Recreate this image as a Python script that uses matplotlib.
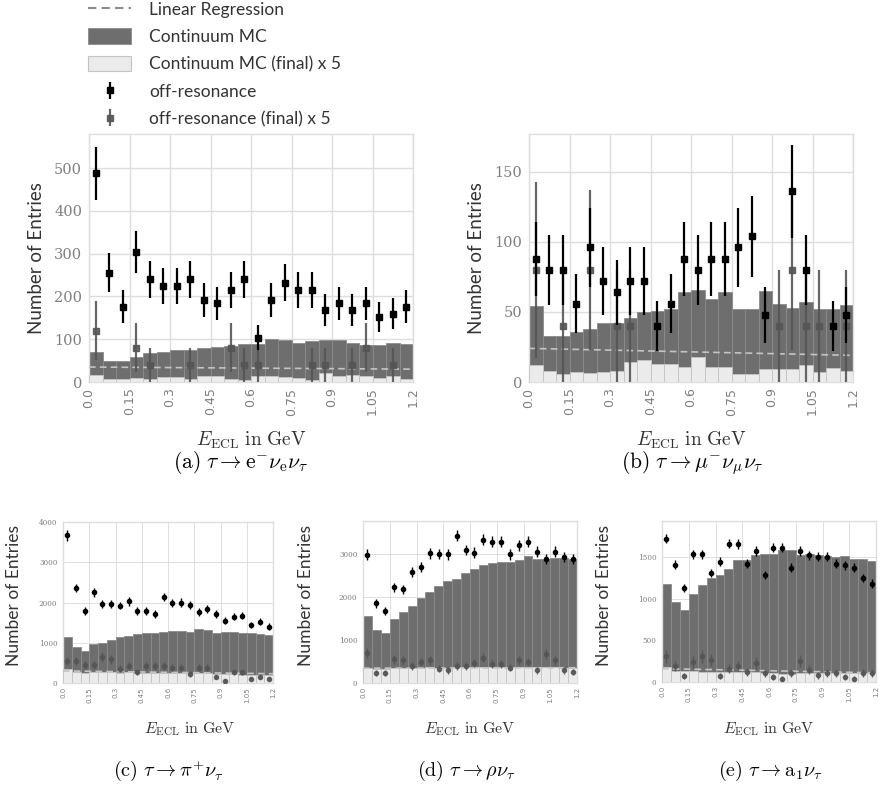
import numpy as np
import matplotlib
matplotlib.use("Agg")
import matplotlib.pyplot as plt
from matplotlib.patches import Patch
from matplotlib.lines import Line2D

plt.rcParams['mathtext.fontset'] = 'cm'

W, H = 880, 787
edges = np.round(np.arange(0, 1.2001, 0.05), 3)
x_lo = edges[:-1]
x_c = x_lo + 0.025
xticks = [0.0, 0.15, 0.3, 0.45, 0.6, 0.75, 0.9, 1.05, 1.2]
xticklabels = ["0.0", "0.15", "0.3", "0.45", "0.6", "0.75", "0.9", "1.05", "1.2"]

# ---------------- panel (a) ----------------
a_mc = [69, 48, 48, 59, 68, 70, 76, 74, 80, 82, 84, 88, 88, 100, 98, 91, 96, 98, 99, 91, 86, 86, 91, 88]
a_mc_final = [16, 6, 6, 10, 8, 12, 12, 8, 14, 14, 8, 5, 14, 14, 12, 10, 5, 20, 14, 16, 14, 10, 14, 6]
a_off = [488, 256, 176, 304, 240, 224, 224, 240, 192, 184, 216, 240, 104, 192, 232, 216, 216, 168, 184, 168, 184, 152, 160, 176]
a_off_err = [62, 45, 38, 49, 44, 42, 42, 44, 39, 38, 42, 44, 29, 39, 43, 42, 42, 37, 38, 37, 38, 35, 36, 38]
a_fin = [120, 0, 0, 80, 40, 0, 0, 40, 0, 0, 80, 40, 40, 0, 0, 0, 40, 40, 0, 40, 80, 0, 40, 0]
a_fin_err = [69, 0, 0, 57, 40, 0, 0, 40, 0, 0, 57, 40, 40, 0, 0, 0, 40, 40, 0, 40, 57, 0, 40, 0]
a_reg = [35, 30]

# ---------------- panel (b) ----------------
b_mc = [54, 33, 33, 36, 38, 42, 42, 46, 50, 51, 52, 64, 66, 59, 64, 52, 52, 65, 56, 53, 57, 52, 52, 55]
b_mc_final = [12, 8, 5.5, 7, 6.5, 7, 8, 14, 15.5, 13, 13, 10.7, 18, 11, 10.7, 6, 6, 9, 9, 9.5, 12, 7, 10, 8]
b_off = [88, 80, 80, 56, 96, 72, 64, 72, 72, 40, 56, 88, 80, 88, 88, 96, 104, 48, 0, 136, 80, 0, 40, 48]
b_off_err = [26.5, 25, 25, 21, 28, 24, 23, 24, 24, 18, 21, 26.5, 25, 26.5, 26.5, 28, 29, 20, 0, 33, 25, 0, 18, 20]
b_fin = [80, 0, 40, 0, 80, 0, 40, 40, 0, 0, 0, 0, 0, 0, 0, 0, 0, 0, 40, 80, 40, 40, 0, 40]
b_fin_err = [63, 0, 40, 0, 57, 0, 40, 40, 0, 0, 0, 0, 0, 0, 0, 0, 0, 0, 40, 57, 40, 40, 0, 40]
b_reg = [24, 19]

# ---------------- panel (c) ----------------
c_mc = [1133, 883, 800, 958, 983, 1067, 1133, 1175, 1217, 1233, 1250, 1267, 1300, 1292, 1275, 1333, 1325, 1250, 1275, 1258, 1242, 1233, 1225, 1183]
c_mc_final = [344, 262, 255, 262, 262, 262, 255, 262, 255, 250, 250, 245, 250, 245, 240, 240, 240, 230, 230, 220, 210, 205, 195, 190]
c_off = [3667, 2358, 1792, 2250, 1967, 1967, 1925, 2025, 1792, 1792, 1717, 2133, 1983, 2000, 1933, 1758, 1833, 1717, 1542, 1650, 1675, 1442, 1525, 1400]
c_off_err = [135, 108, 95, 106, 99, 99, 98, 100, 95, 95, 93, 103, 100, 100, 98, 94, 96, 93, 88, 91, 92, 85, 87, 84]
c_fin = [550, 550, 443, 443, 648, 590, 360, 426, 262, 426, 426, 426, 385, 385, 221, 385, 385, 140, 57, 262, 262, 100, 140, 100]
c_fin_err = [105, 105, 95, 95, 115, 110, 85, 92, 72, 92, 92, 92, 88, 88, 66, 88, 88, 53, 34, 72, 72, 45, 53, 45]
c_reg = [300, 230]

# ---------------- panel (d) ----------------
d_mc = [1556, 1245, 1167, 1479, 1658, 1798, 1969, 2109, 2257, 2381, 2420, 2553, 2661, 2747, 2786, 2809, 2825, 2864, 2957, 2895, 2895, 2910, 2918, 2880]
d_mc_final = [350, 336, 336, 340, 345, 350, 360, 365, 360, 360, 365, 370, 372, 370, 372, 368, 370, 372, 370, 368, 365, 362, 360, 355]
d_off = [2988, 1852, 1681, 2226, 2187, 2591, 2693, 3019, 3000, 2996, 3424, 3097, 3035, 3330, 3292, 3292, 2996, 3206, 3292, 3058, 2879, 3058, 2926, 2879]
d_off_err = [122, 96, 92, 105, 105, 114, 116, 123, 122, 122, 131, 124, 123, 129, 128, 128, 122, 127, 128, 124, 120, 124, 121, 120]
d_fin = [688, 234, 234, 555, 531, 391, 492, 531, 336, 297, 391, 391, 469, 586, 453, 438, 359, 531, 492, 297, 672, 531, 297, 258]
d_fin_err = [117, 68, 68, 105, 103, 88, 99, 103, 82, 77, 88, 88, 97, 108, 95, 94, 85, 103, 99, 77, 116, 103, 77, 72]
d_reg = [345, 355]

# ---------------- panel (e) ----------------
e_mc = [1172, 960, 860, 1052, 1160, 1252, 1288, 1360, 1460, 1460, 1520, 1540, 1540, 1588, 1588, 1528, 1540, 1528, 1508, 1500, 1508, 1476, 1476, 1448]
e_mc_final = [180, 130, 128, 126, 125, 124, 122, 120, 118, 116, 114, 112, 110, 100, 100, 104, 108, 110, 112, 112, 110, 110, 108, 108]
e_off = [1720, 1408, 1132, 1532, 1532, 1308, 1440, 1660, 1652, 1420, 1572, 1280, 1612, 1612, 1372, 1572, 1520, 1500, 1500, 1420, 1400, 1372, 1248, 1180]
e_off_err = [59, 53, 48, 55, 55, 51, 54, 58, 57, 53, 56, 51, 57, 57, 52, 56, 55, 55, 55, 53, 53, 52, 50, 49]
e_fin = [308, 188, 68, 240, 308, 268, 68, 160, 188, 120, 228, 108, 60, 40, 108, 248, 148, 80, 108, 108, 60, 40, 108, 108]
e_fin_err = [78, 61, 37, 69, 78, 73, 37, 57, 61, 49, 68, 46, 35, 28, 46, 70, 54, 40, 46, 46, 35, 28, 46, 46]
e_reg = [160, 110]

DARK = '#6e6e6e'
DARK_EDGE = '#8c8c8c'
LIGHT = '#ebebeb'
LIGHT_EDGE = '#c4c4c4'
GRID = '#dedede'
TICKC = '#7f7f7f'
FIN = '#555555'

fig = plt.figure(figsize=(W / 100, H / 100), dpi=100)


def box(l, t, r, b):
    return [l / W, 1 - b / H, (r - l) / W, (b - t) / H]


def panel(rect, mc, mcf, off, offe, fin, fine, reg, ylim, yticks, big):
    ax = fig.add_axes(box(*rect))
    ax.set_facecolor('white')
    ax.bar(x_lo, mc, width=0.05, align='edge', color=DARK, edgecolor=DARK_EDGE, lw=0.6, zorder=2)
    ax.bar(x_lo, mcf, width=0.05, align='edge', color=LIGHT, edgecolor=LIGHT_EDGE, lw=0.6, zorder=3)
    ax.plot([0.0, 1.2], reg, ls=(0, (4, 2.5)), color='#c4c4c4', lw=1.2, zorder=4)
    fin = np.array(fin, float)
    fine = np.array(fine, float)
    off = np.array(off, float)
    offe = np.array(offe, float)
    mf = fin > 0
    mo = off > 0
    if big:
        ms, lw = 4.5, 1.6
        mk = 's'
    else:
        ms, lw = 3.0, 1.0
        mk = 'o'
    h2 = ax.errorbar(x_c[mf], fin[mf], yerr=fine[mf], fmt=mk, color=FIN, ms=ms, lw=lw,
                     capsize=0, zorder=5, alpha=0.9)
    h1 = ax.errorbar(x_c[mo], off[mo], yerr=offe[mo], fmt=mk, color='black', ms=ms, lw=lw,
                     capsize=0, zorder=6)
    ax.set_xlim(0, 1.2)
    ax.set_ylim(*ylim)
    ax.set_xticks(xticks)
    ax.set_yticks(yticks)
    ax.grid(True, color=GRID, lw=1.0 if big else 0.7, zorder=0)
    ax.set_axisbelow(True)
    for s in ax.spines.values():
        s.set_color(GRID)
        s.set_linewidth(1.0)
    ax.tick_params(length=0, colors=TICKC)
    if big:
        ax.set_xticklabels(xticklabels, rotation=90, fontsize=9, family='DejaVu Sans', color=TICKC)
        ax.set_yticklabels([str(v) for v in yticks], fontsize=10.5, family='DejaVu Serif', color=TICKC)
        ax.tick_params(axis='x', pad=4)
        ax.tick_params(axis='y', pad=5)
    else:
        ax.set_xticklabels(xticklabels, rotation=90, fontsize=5.0, family='DejaVu Sans', color=TICKC)
        ax.set_yticklabels([str(v) for v in yticks], fontsize=5.2, family='DejaVu Serif', color=TICKC)
        ax.tick_params(axis='x', pad=3)
        ax.tick_params(axis='y', pad=4)
    return ax, h1, h2


axa, h_off, h_fin = panel((89, 134, 413, 382), a_mc, a_mc_final, a_off, a_off_err, a_fin, a_fin_err, a_reg,
                          (0, 580), [0, 100, 200, 300, 400, 500], True)
axb, _, _ = panel((529, 134, 853, 382), b_mc, b_mc_final, b_off, b_off_err, b_fin, b_fin_err, b_reg,
                  (0, 177), [0, 50, 100, 150], True)
axc, _, _ = panel((63, 522, 273, 683), c_mc, c_mc_final, c_off, c_off_err, c_fin, c_fin_err, c_reg,
                  (0, 4000), [0, 1000, 2000, 3000, 4000], False)
axd, _, _ = panel((363, 521, 577, 683), d_mc, d_mc_final, d_off, d_off_err, d_fin, d_fin_err, d_reg,
                  (0, 3770), [0, 1000, 2000, 3000], False)
axe, _, _ = panel((662, 521, 876, 682), e_mc, e_mc_final, e_off, e_off_err, e_fin, e_fin_err, e_reg,
                  (0, 1930), [0, 500, 1000, 1500], False)

# y labels
lab_font = dict(family='Lato', color='#333333')
fig.text(37 / W, 1 - 258 / H, 'Number of Entries', rotation=90, ha='center', va='center', fontsize=13.5, **lab_font)
fig.text(477 / W, 1 - 258 / H, 'Number of Entries', rotation=90, ha='center', va='center', fontsize=13.5, **lab_font)
fig.text(14 / W, 1 - 595 / H, 'Number of Entries', rotation=90, ha='center', va='center', fontsize=12.5, **lab_font)
fig.text(306 / W, 1 - 595 / H, 'Number of Entries', rotation=90, ha='center', va='center', fontsize=12.5, **lab_font)
fig.text(604 / W, 1 - 595 / H, 'Number of Entries', rotation=90, ha='center', va='center', fontsize=12.5, **lab_font)

# x labels
xl = r'$E_{\mathrm{ECL}}\ \mathrm{in\ GeV}$'
fig.text(251 / W, 1 - 440 / H, xl, ha='center', va='center', fontsize=14, color='#333333')
fig.text(691 / W, 1 - 440 / H, xl, ha='center', va='center', fontsize=14, color='#333333')
fig.text(190 / W, 1 - 729 / H, xl, ha='center', va='center', fontsize=11.5, color='#333333')
fig.text(470 / W, 1 - 729 / H, xl, ha='center', va='center', fontsize=11.5, color='#333333')
fig.text(769 / W, 1 - 729 / H, xl, ha='center', va='center', fontsize=11.5, color='#333333')

# captions
fig.text(240 / W, 1 - 463 / H, r'$\mathrm{(a)}\ \tau \rightarrow \mathrm{e}^{-}\nu_{\mathrm{e}}\nu_{\tau}$',
         ha='center', va='center', fontsize=15.5, color='black')
fig.text(692 / W, 1 - 463 / H, r'$\mathrm{(b)}\ \tau \rightarrow \mu^{-}\nu_{\mu}\nu_{\tau}$',
         ha='center', va='center', fontsize=15.5, color='black')
fig.text(168 / W, 1 - 771 / H, r'$\mathrm{(c)}\ \tau \rightarrow \pi^{+}\nu_{\tau}$',
         ha='center', va='center', fontsize=14.5, color='black')
fig.text(466 / W, 1 - 771 / H, r'$\mathrm{(d)}\ \tau \rightarrow \rho\nu_{\tau}$',
         ha='center', va='center', fontsize=14.5, color='black')
fig.text(770 / W, 1 - 771 / H, r'$\mathrm{(e)}\ \tau \rightarrow \mathrm{a}_1\nu_{\tau}$',
         ha='center', va='center', fontsize=14.5, color='black')

# legend
handles = [
    Line2D([], [], ls=(0, (4, 2.5)), color='#8c8c8c', lw=1.5),
    Patch(facecolor=DARK, edgecolor=DARK_EDGE, lw=0.6),
    Patch(facecolor=LIGHT, edgecolor=LIGHT_EDGE, lw=0.8),
    h_off,
    h_fin,
]
labels = ['Linear Regression', 'Continuum MC', 'Continuum MC (final) x 5', 'off-resonance',
          'off-resonance (final) x 5']
leg = fig.legend(handles, labels, loc='upper left', bbox_to_anchor=(88 / W, 1 - 1 / H),
                 frameon=False, prop={'family': 'Lato', 'size': 12.5},
                 handlelength=2.5, handleheight=1.0, handletextpad=1.0, labelspacing=0.62,
                 borderpad=0, borderaxespad=0)
for t in leg.get_texts():
    t.set_color('#333333')

fig.savefig('out.png', dpi=100, facecolor='white')
